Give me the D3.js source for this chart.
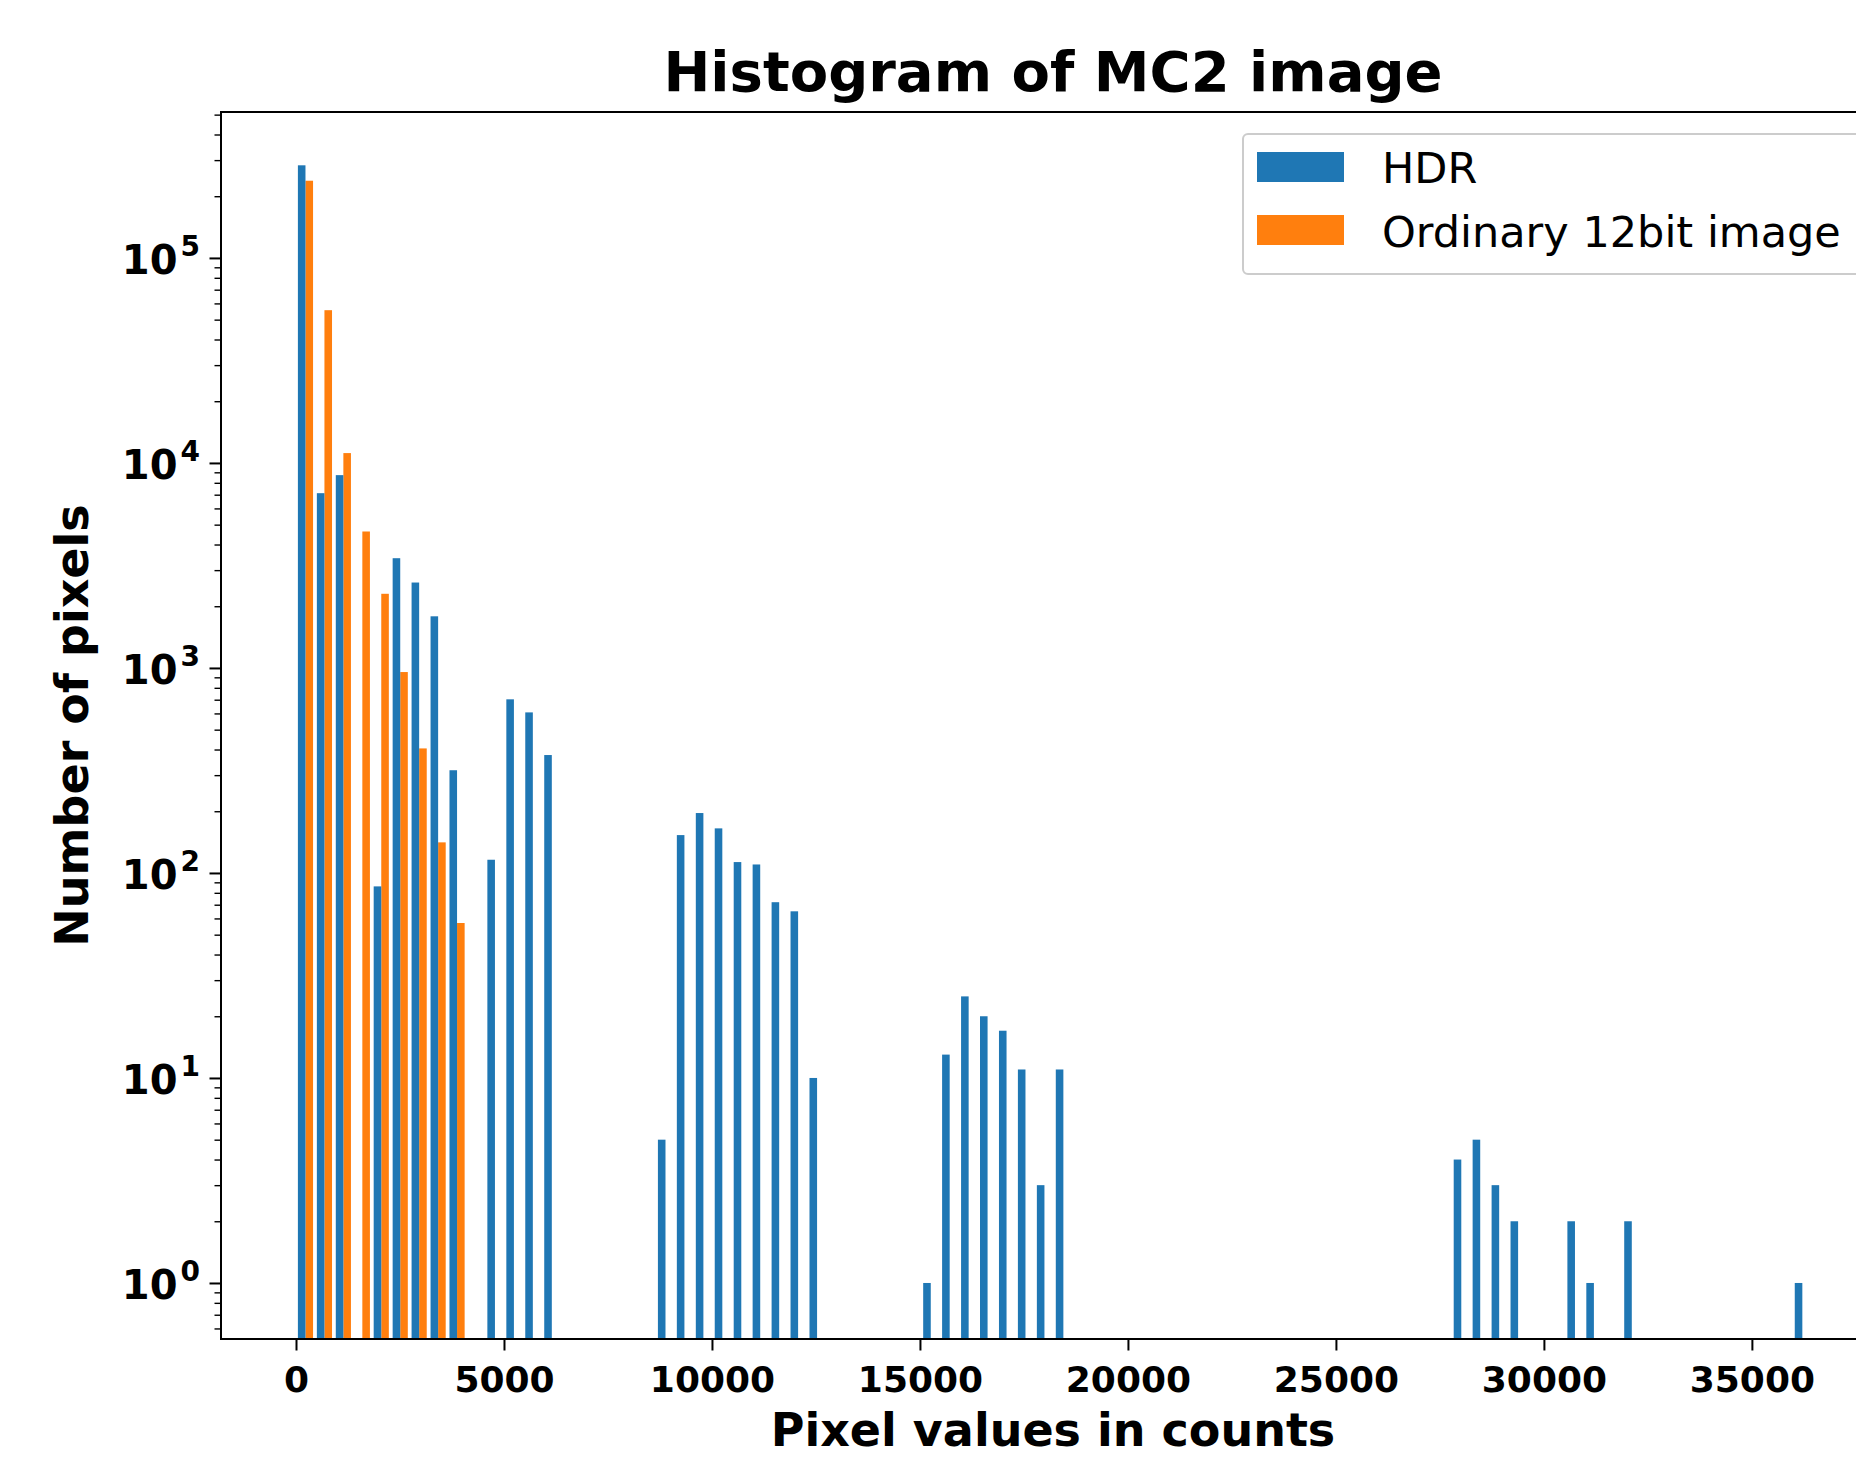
<!DOCTYPE html>
<html>
<head>
<meta charset="utf-8">
<script src="https://cdn.jsdelivr.net/npm/d3@7"></script>
<style>
  body { margin: 0; background: #fff; }
  svg { display: block; font-family: "DejaVu Sans", sans-serif; }
</style>
</head>
<body>
<svg id="chart" width="1856" height="1458"></svg>
<script>
// histogram bins (left edge of each bin, in counts) and pixel counts per bin
var binWidth = 455.5;

var hdrBinStart = [0, 456, 911, 1822, 2278, 2733, 3189, 3644,
    4555, 5011, 5466, 5922,
    8655, 9110, 9566, 10021, 10477, 10932, 11388, 11843, 12299,
    15032, 15487, 15943, 16398, 16854, 17309, 17765, 18220,
    27786, 28241, 28697, 29152, 30519, 30974, 31885, 35985];
var hdrCounts = [283000, 7120, 8720, 86, 3430, 2610, 1786, 317,
    116, 703, 607, 376,
    5, 153, 196, 165, 113, 110, 72, 65, 10,
    1, 13, 25, 20, 17, 11, 3, 11,
    4, 5, 3, 2, 2, 1, 2, 1];

var ordBinStart = [0, 456, 911, 1367, 1822, 2278, 2733, 3189, 3644];
var ordCounts = [238000, 55600, 11170, 4630, 2300, 955, 405, 141, 57];

var xTicks = [0, 5000, 10000, 15000, 20000, 25000, 30000, 35000];
var yTicks = [1, 10, 100, 1000, 10000, 100000];
var yMinorTicks = [0.6, 0.7, 0.8, 0.9,
    2, 3, 4, 5, 6, 7, 8, 9,
    20, 30, 40, 50, 60, 70, 80, 90,
    200, 300, 400, 500, 600, 700, 800, 900,
    2000, 3000, 4000, 5000, 6000, 7000, 8000, 9000,
    20000, 30000, 40000, 50000, 60000, 70000, 80000, 90000,
    200000, 300000, 400000, 500000];

var seriesNames = ["HDR", "Ordinary 12bit image"];
var seriesColors = ["#1f77b4", "#ff7f0e"];

var plot = { left: 221, right: 1885, top: 112, bottom: 1339 };

function drawChart() {
    let svg = d3.select("#chart");

    let xScale = d3.scaleLinear()
        .domain([-1803, 38200])
        .range([plot.left, plot.right]);

    let yScale = d3.scaleLog()
        .domain([0.533, 515000])
        .range([plot.bottom, plot.top]);

    let bars = svg.append("g").attr("class", "bars");

    // HDR bars sit in the left part of each bin, the 12bit ones right next to them
    let series = [
        { start: ordBinStart, counts: ordCounts, offset: 0.5, color: seriesColors[1] },
        { start: hdrBinStart, counts: hdrCounts, offset: 0.1, color: seriesColors[0] }
    ];
    series.forEach(function (s) {
        bars.selectAll(null)
            .data(s.counts)
            .enter().append("rect")
            .attr("x", function (d, i) { return xScale(s.start[i] + s.offset * binWidth); })
            .attr("width", function (d, i) {
                return xScale(s.start[i] + (s.offset + 0.4) * binWidth) - xScale(s.start[i] + s.offset * binWidth);
            })
            .attr("y", function (d) { return yScale(d); })
            .attr("height", function (d) { return plot.bottom - yScale(d); })
            .attr("fill", s.color);
    });

    // x axis
    let xAxis = svg.append("g")
        .attr("transform", `translate(0,${plot.bottom})`)
        .call(d3.axisBottom(xScale).tickValues(xTicks).tickSize(11.5).tickPadding(7).tickFormat(d3.format("d")));
    xAxis.select(".domain").remove();
    xAxis.selectAll(".tick line").attr("stroke", "#000").attr("stroke-width", 2);
    xAxis.selectAll(".tick text")
        .attr("fill", "#000")
        .attr("font-size", "36px")
        .attr("font-weight", "bold")
        .attr("font-family", "DejaVu Sans")
        .attr("dy", null)
        .attr("y", 53);

    // y axis, minor ticks first
    let yMinor = svg.append("g")
        .attr("transform", `translate(${plot.left},0)`)
        .call(d3.axisLeft(yScale).tickValues(yMinorTicks).tickSize(6.5).tickFormat(""));
    yMinor.select(".domain").remove();
    yMinor.selectAll(".tick line").attr("stroke", "#000").attr("stroke-width", 1.4);

    let yAxis = svg.append("g")
        .attr("transform", `translate(${plot.left},0)`)
        .call(d3.axisLeft(yScale).tickValues(yTicks).tickSize(11.5).tickFormat(""));
    yAxis.select(".domain").remove();
    yAxis.selectAll(".tick line").attr("stroke", "#000").attr("stroke-width", 2);

    let yLabels = yAxis.selectAll(".tick").append("text")
        .attr("x", -21)
        .attr("y", 16)
        .attr("text-anchor", "end")
        .attr("fill", "#000")
        .attr("font-size", "40px")
        .attr("font-weight", "bold")
        .attr("font-family", "DejaVu Sans");
    yLabels.append("tspan").text("10");
    yLabels.append("tspan")
        .attr("font-size", "28px")
        .attr("dx", 3)
        .attr("dy", -18)
        .text(function (d) { return Math.round(Math.log10(d)); });

    // frame
    svg.append("rect")
        .attr("x", plot.left)
        .attr("y", plot.top)
        .attr("width", plot.right - plot.left)
        .attr("height", plot.bottom - plot.top)
        .attr("fill", "none")
        .attr("stroke", "#000")
        .attr("stroke-width", 2);

    // titles
    svg.append("text")
        .attr("x", (plot.left + plot.right) / 2)
        .attr("y", 91)
        .attr("text-anchor", "middle")
        .attr("font-size", "56px")
        .attr("font-weight", "bold")
        .text("Histogram of MC2 image");

    svg.append("text")
        .attr("x", (plot.left + plot.right) / 2)
        .attr("y", 1446)
        .attr("text-anchor", "middle")
        .attr("font-size", "46px")
        .attr("font-weight", "bold")
        .text("Pixel values in counts");

    svg.append("text")
        .attr("transform", `translate(88,${(plot.top + plot.bottom) / 2}) rotate(-90)`)
        .attr("text-anchor", "middle")
        .attr("font-size", "46px")
        .attr("font-weight", "bold")
        .text("Number of pixels");

    // legend
    let legend = svg.append("g").attr("class", "legend");
    legend.append("rect")
        .attr("x", 1243)
        .attr("y", 134)
        .attr("width", 700)
        .attr("height", 140)
        .attr("rx", 5)
        .attr("fill", "#fff")
        .attr("fill-opacity", 0.8)
        .attr("stroke", "#cccccc")
        .attr("stroke-width", 2);

    seriesNames.forEach(function (name, i) {
        legend.append("rect")
            .attr("x", 1257)
            .attr("y", 152 + i * 63)
            .attr("width", 87)
            .attr("height", 30)
            .attr("fill", seriesColors[i]);
        legend.append("text")
            .attr("x", 1382)
            .attr("y", 183 + i * 64)
            .attr("font-size", "43px")
            .attr("fill", "#000")
            .text(name);
    });
}

drawChart();
</script>
</body>
</html>
